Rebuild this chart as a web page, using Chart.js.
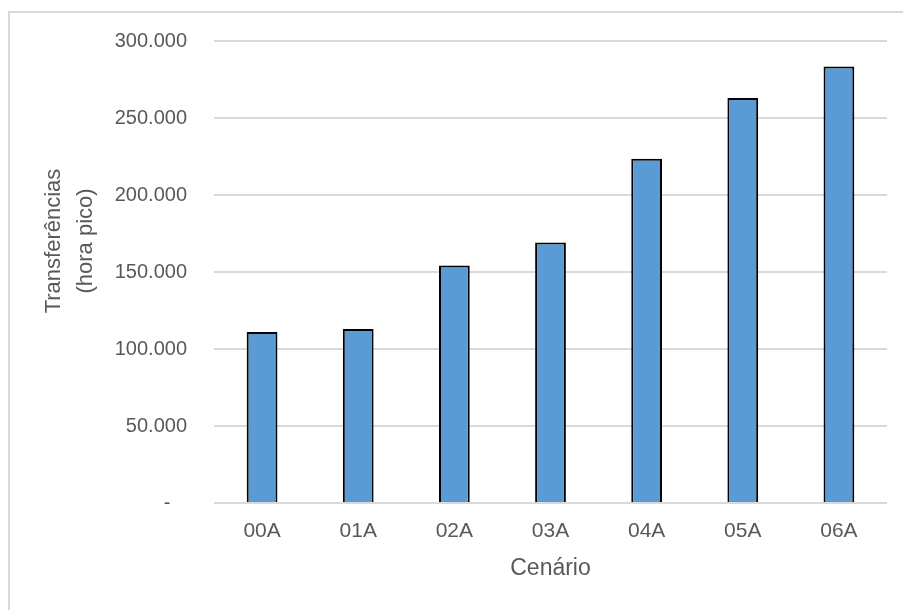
<!DOCTYPE html>
<html>
<head>
<meta charset="utf-8">
<script src="https://cdn.jsdelivr.net/npm/chart.js@4/dist/chart.umd.min.js"></script>
<style>
  html, body { margin: 0; padding: 0; background: #fff; }
  #wrap { position: relative; width: 903px; height: 610px; }
  #frame { position: absolute; left: 8px; top: 11px; right: -10px; bottom: -10px;
           border-left: 2px solid #d9d9d9; border-top: 2px solid #d9d9d9; }
  canvas { position: absolute; left: 0; top: 0; }
</style>
</head>
<body>
<div id="wrap">
  <div id="frame"></div>
  <canvas id="canvas" width="903" height="610"></canvas>
</div>
<script>
var cenarios = ['00A', '01A', '02A', '03A', '04A', '05A', '06A'];
var transferencias = [111000, 113000, 154300, 169100, 223600, 263000, 283500];
var yTicks = [0, 50000, 100000, 150000, 200000, 250000, 300000];
var yTitle = ['Transferências', '(hora pico)'];

var fontFamily = '"Liberation Sans", Arial, sans-serif';
var textColor = '#595959';

function formatTick(v) {
    if (v === 0) return '-   ';
    return v.toString().replace(/\B(?=(\d{3})+(?!\d))/g, '.');
}

// y axis title, two rotated lines, placed like the excel original
var yTitlePlugin = {
    id: 'yTitle',
    afterDraw: function (chart) {
        var c = chart.ctx;
        c.save();
        c.translate(70, 241);
        c.rotate(-Math.PI / 2);
        c.fillStyle = textColor;
        c.font = '22px ' + fontFamily;
        c.textAlign = 'center';
        c.textBaseline = 'middle';
        c.fillText(yTitle[0], 0, -16);
        c.fillText(yTitle[1], 0, 16);
        c.restore();
    }
};

window.onload = function () {
    var ctx = document.getElementById('canvas').getContext('2d');
    window.myBar = new Chart(ctx, {
        type: 'bar',
        data: {
            labels: cenarios,
            datasets: [{
                label: 'Transferências',
                data: transferencias,
                backgroundColor: '#5b9bd5',
                borderColor: '#000000',
                borderWidth: 2,
                borderSkipped: 'bottom',
                barPercentage: 0.32,
                categoryPercentage: 1
            }]
        },
        plugins: [yTitlePlugin],
        options: {
            responsive: false,
            animation: false,
            layout: { padding: { left: 0, right: 16, top: 41, bottom: 0 } },
            plugins: {
                legend: { display: false },
                tooltip: { enabled: false }
            },
            scales: {
                x: {
                    grid: { display: false, drawTicks: false },
                    border: { display: false },
                    ticks: {
                        color: textColor,
                        padding: 16,
                        font: { family: fontFamily, size: 21 }
                    },
                    title: {
                        display: true,
                        text: 'Cenário',
                        color: textColor,
                        padding: { top: 4, bottom: 28 },
                        font: { family: fontFamily, size: 23 }
                    },
                    afterFit: function (scale) { scale.height = 107; }
                },
                y: {
                    min: 0,
                    max: 300000,
                    afterBuildTicks: function (scale) {
                        scale.ticks = yTicks.map(function (v) { return { value: v }; });
                    },
                    grid: { color: '#d9d9d9', lineWidth: 2, drawTicks: false },
                    border: { display: false },
                    ticks: {
                        color: textColor,
                        padding: 27,
                        font: { family: fontFamily, size: 20 },
                        callback: function (v) { return formatTick(v); }
                    },
                    afterFit: function (scale) { scale.width = 214; }
                }
            }
        }
    });
};
</script>
</body>
</html>
